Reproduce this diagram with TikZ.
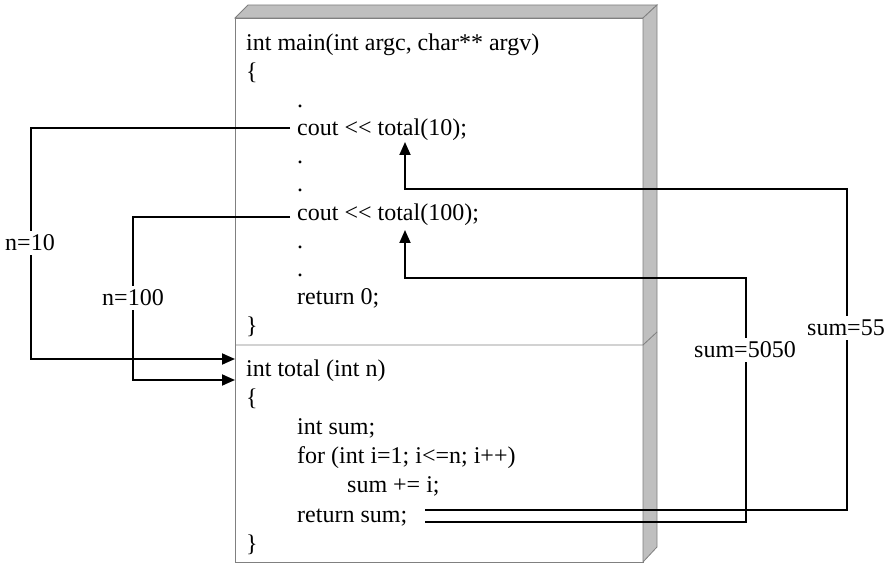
\documentclass[tikz,border=0pt]{standalone}
\usepackage{fontspec}
\setmainfont{Liberation Serif}
\usetikzlibrary{arrows.meta}
\begin{document}
\begin{tikzpicture}[x=1pt,y=-1pt,
  code/.style={anchor=base west, inner sep=0pt, font=\fontsize{24}{28}\selectfont},
  frame/.style={draw=black!50, line width=0.8pt},
  face/.style={frame, fill=black!25},
  conn/.style={line width=1.8pt},
  arr/.style={conn, -{Triangle[length=13pt,width=11pt]}},
  lbl/.style={fill=white, inner xsep=1pt, inner ysep=4pt, font=\fontsize{24}{28}\selectfont}]
\useasboundingbox (0,0) rectangle (889,564);

% the 3-D block holding both functions
\filldraw[frame, fill=white] (235,18) rectangle (643,562);
\filldraw[face] (235,18) -- (248,5) -- (657,5) -- (643,18) -- cycle;
\filldraw[face] (643,18) -- (657,5) -- (657,547) -- (643,562) -- cycle;
\draw[frame] (235,345) -- (643,345) -- (657,332);

% main()
\node[code] (m0)  at (246,51)    {int main(int argc, char** argv)};
\node[code] (m1)  at (246,79.2)  {\{};
\node[code] (m2)  at (297,107.4) {.};
\node[code] (m3)  at (297,135.6) {cout <\kern0pt< total(10);};
\node[code] (m4)  at (297,163.8) {.};
\node[code] (m5)  at (297,192)   {.};
\node[code] (m6)  at (297,220.2) {cout <\kern0pt< total(100);};
\node[code] (m7)  at (297,248.4) {.};
\node[code] (m8)  at (297,276.6) {.};
\node[code] (m9)  at (297,304.8) {return 0;};
\node[code] (m10) at (246,333)   {\}};

% total()
\node[code] (t0) at (246,376)   {int total (int n)};
\node[code] (t1) at (246,405.2) {\{};
\node[code] (t2) at (297,434.4) {int sum;};
\node[code] (t3) at (297,463.6) {for (int i=1; i<=n; i++)};
\node[code] (t4) at (347,492.8) {sum += i;};
\node[code] (t5) at (297,522)   {return sum;};
\node[code] (t6) at (246,551.2) {\}};

% end points of the call and return paths
\coordinate (call10)  at (290,128);
\coordinate (call100) at (290,217);
\coordinate (bend10)  at (31,359);
\coordinate (bend100) at (133,380);
\coordinate (in10)    at (235,359);
\coordinate (in100)   at (235,380);
\coordinate (ret55)   at (425,510);
\coordinate (ret5050) at (425,522);
\coordinate (up55)    at (847,189);
\coordinate (up5050)  at (746,278);
\coordinate (back55)  at (405,142);
\coordinate (back5050) at (405,230);

% argument passing
\draw[arr] (call10) -| (bend10) -- (in10);
\draw[arr] (call100) -| (bend100) -- (in100);
% returned values
\draw[arr] (ret55) -| (up55) -| (back55);
\draw[arr] (ret5050) -| (up5050) -| (back5050);

% labels on the paths
\node[lbl] (n10)   at (30,243)  {n=10};
\node[lbl] (n100)  at (133,298) {n=100};
\node[lbl] (s55)   at (846,328) {sum=55};
\node[lbl] (s5050) at (745,350) {sum=5050};
\end{tikzpicture}
\end{document}
